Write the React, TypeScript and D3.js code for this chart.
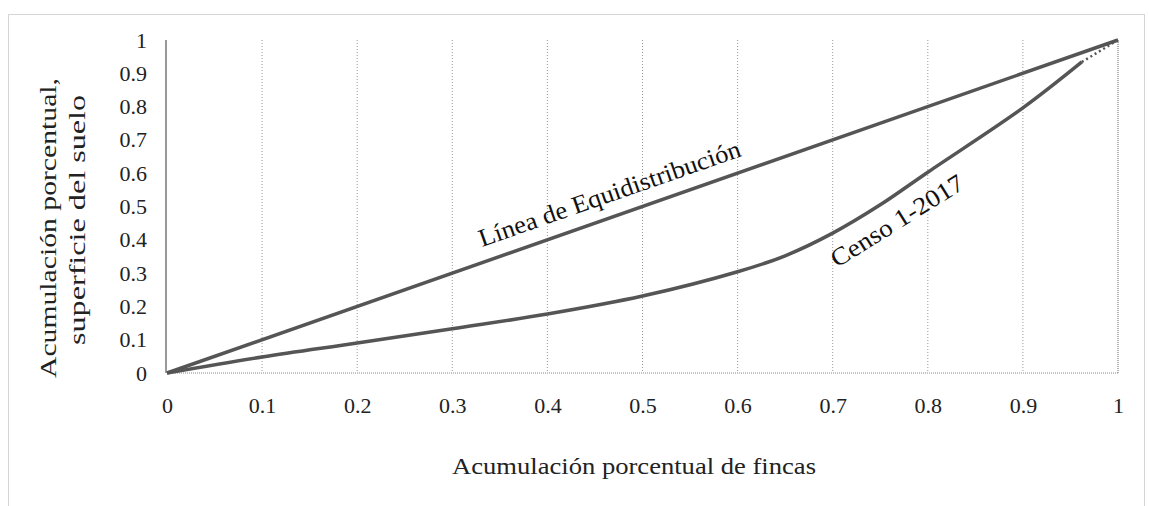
import { useEffect, useRef } from "react";
import * as d3 from "d3";

const WIDTH = 1149;
const HEIGHT = 506;
const MARGIN = { top: 40, right: 31, bottom: 133, left: 167 };

// Lorenz curve (Censo 1-2017)
const fincas = [0, 0.1, 0.2, 0.3, 0.4, 0.5, 0.6, 0.65, 0.7, 0.75, 0.8, 0.9, 0.962];
const superficie = [0, 0.048, 0.09, 0.133, 0.177, 0.231, 0.304, 0.352, 0.42, 0.505, 0.603, 0.796, 0.934];
// last bit of the curve, drawn dotted
const tailX = [0.962, 1];
const tailY = [0.934, 1];
// equidistribution line
const equiX = [0, 1];
const equiY = [0, 1];

const xTicks = [0, 0.1, 0.2, 0.3, 0.4, 0.5, 0.6, 0.7, 0.8, 0.9, 1];
const yTicks = [0, 0.1, 0.2, 0.3, 0.4, 0.5, 0.6, 0.7, 0.8, 0.9, 1];

const FONT = "Liberation Serif";
const LINE = "#555";

type Pt = [number, number];

export default function App() {
  const axesRef = useRef<SVGGElement>(null);
  const boundsWidth = WIDTH - MARGIN.left - MARGIN.right;
  const boundsHeight = HEIGHT - MARGIN.top - MARGIN.bottom;

  const xScale = d3.scaleLinear().domain([0, 1]).range([0, boundsWidth]);
  const yScale = d3.scaleLinear().domain([0, 1]).range([boundsHeight, 0]);

  useEffect(() => {
    const g = d3.select(axesRef.current);
    g.selectAll("*").remove();

    const xAxis = d3
      .axisBottom(xScale)
      .tickValues(xTicks)
      .tickSize(0)
      .tickPadding(24)
      .tickFormat((d) => String(d));
    g.append("g")
      .attr("transform", `translate(0,${boundsHeight})`)
      .call(xAxis)
      .call((s) => s.select(".domain").remove());

    const yAxis = d3
      .axisLeft(yScale)
      .tickValues(yTicks)
      .tickSize(0)
      .tickPadding(20)
      .tickFormat((d) => String(d));
    g.append("g")
      .call(yAxis)
      .call((s) => s.select(".domain").remove());

    g.selectAll(".tick text")
      .attr("font-family", FONT)
      .attr("font-size", 22)
      .attr("fill", "#222");
  }, [boundsHeight]);

  const line = d3
    .line<Pt>()
    .x((d) => xScale(d[0]))
    .y((d) => yScale(d[1]))
    .curve(d3.curveCatmullRom.alpha(0.5));

  const lorenz = line(fincas.map((x, i) => [x, superficie[i]] as Pt)) || "";
  const tail = line(tailX.map((x, i) => [x, tailY[i]] as Pt)) || "";
  const equi = line(equiX.map((x, i) => [x, equiY[i]] as Pt)) || "";

  const angEqui =
    (Math.atan2(yScale(0) - yScale(1), xScale(1) - xScale(0)) * 180) / Math.PI;

  return (
    <svg
      width={WIDTH}
      height={HEIGHT}
      style={{ position: "absolute", left: 0, top: 0, background: "#fff" }}
    >
      <rect
        x={8.5}
        y={14.5}
        width={1136}
        height={500}
        fill="none"
        stroke="#aaa"
        strokeDasharray="1,1"
      />
      <g transform={`translate(${MARGIN.left},${MARGIN.top})`}>
        {/* vertical grid */}
        {xTicks.slice(1).map((t) => (
          <line
            key={t}
            x1={xScale(t)}
            x2={xScale(t)}
            y1={0}
            y2={boundsHeight}
            stroke="#999"
            strokeWidth={t === 1 ? 1.5 : 1}
            strokeDasharray={t === 1 ? "1,1" : "1,2"}
          />
        ))}
        {/* baseline + left axis */}
        <line
          x1={0}
          x2={boundsWidth}
          y1={boundsHeight}
          y2={boundsHeight}
          stroke="#888"
          strokeDasharray="1,1"
        />
        <line x1={-1} x2={-1} y1={0} y2={boundsHeight} stroke="#999" strokeWidth={2} />

        <path d={equi} fill="none" stroke={LINE} strokeWidth={3.5} />
        <path d={lorenz} fill="none" stroke={LINE} strokeWidth={3.5} />
        <path d={tail} fill="none" stroke={LINE} strokeWidth={2.5} strokeDasharray="2,3" />

        <text
          transform={`translate(${482 - MARGIN.left},${247 - MARGIN.top}) rotate(${-angEqui})`}
          fontFamily={FONT}
          fontSize={25}
          textLength={276}
          lengthAdjust="spacingAndGlyphs"
          fill="#111"
        >
          Línea de Equidistribución
        </text>
        <text
          transform={`translate(${837 - MARGIN.left},${268 - MARGIN.top}) rotate(-32)`}
          fontFamily={FONT}
          fontSize={25}
          textLength={152}
          lengthAdjust="spacingAndGlyphs"
          fill="#111"
        >
          Censo 1-2017
        </text>
      </g>
      <g ref={axesRef} transform={`translate(${MARGIN.left},${MARGIN.top})`} />

      <text
        x={634}
        y={474}
        textAnchor="middle"
        fontFamily={FONT}
        fontSize={23}
        textLength={364}
        lengthAdjust="spacingAndGlyphs"
        fill="#222"
      >
        Acumulación porcentual de fincas
      </text>
      <text
        transform="translate(56,228) rotate(-90)"
        textAnchor="middle"
        fontFamily={FONT}
        fontSize={23}
        textLength={300}
        lengthAdjust="spacingAndGlyphs"
        fill="#222"
      >
        Acumulación porcentual,
      </text>
      <text
        transform="translate(85,220) rotate(-90)"
        textAnchor="middle"
        fontFamily={FONT}
        fontSize={23}
        textLength={250}
        lengthAdjust="spacingAndGlyphs"
        fill="#222"
      >
        superficie del suelo
      </text>
    </svg>
  );
}
